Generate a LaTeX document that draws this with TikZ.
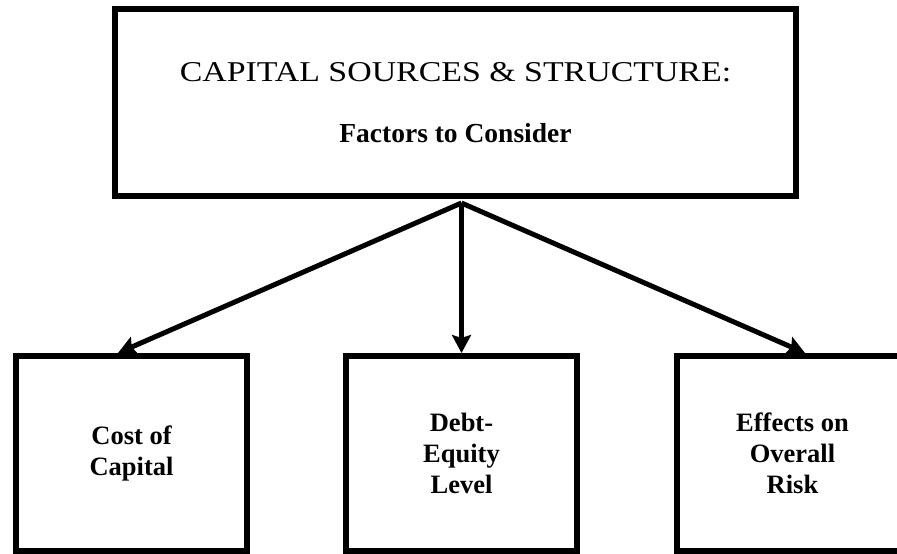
\documentclass[tikz,border=0pt]{standalone}
\usepackage{graphicx}
\usepackage{fontspec}
\setmainfont{Liberation Serif}
\usetikzlibrary{arrows.meta, positioning}

\tikzset{
  box/.style={draw, line width=6pt, minimum width=231pt, minimum height=195pt,
    align=center, inner sep=0pt},
  factor/.style={box, font=\fontsize{26.5}{31}\selectfont\bfseries},
  link/.style={line width=5pt, -{Stealth[length=18pt, width=19pt, inset=3pt]}},
}

\begin{document}
\begin{tikzpicture}[x=1pt, y=1pt]
  \useasboundingbox (0,0) rectangle (897,-554);
  \node[draw, line width=6pt, minimum width=681pt, minimum height=187pt, align=center] (top) at (455.5,-102.5) {
    {\fontsize{28.7}{34}\selectfont\scalebox{1.18}[1]{CAPITAL SOURCES \& STRUCTURE:}}\\[41pt]
    {\fontsize{27.5}{32}\selectfont\bfseries Factors to Consider}
  };
  \node[factor] (cost) at (131.5,-453.5) {Cost of\\Capital};
  \node[factor, right=93pt of cost] (debt) {Debt-\\Equity\\Level};
  \node[factor, right=94pt of debt] (risk) {Effects on\\Overall\\Risk};

  \coordinate (hub) at ([xshift=6pt, yshift=-4pt]top.south);
  \draw[link] (hub) -- ([xshift=-13.5pt]cost.north);
  \draw[link, line width=4.5pt] (hub) -- (debt.north);
  \draw[link] (hub) -- ([xshift=12.5pt]risk.north);
\end{tikzpicture}
\end{document}
